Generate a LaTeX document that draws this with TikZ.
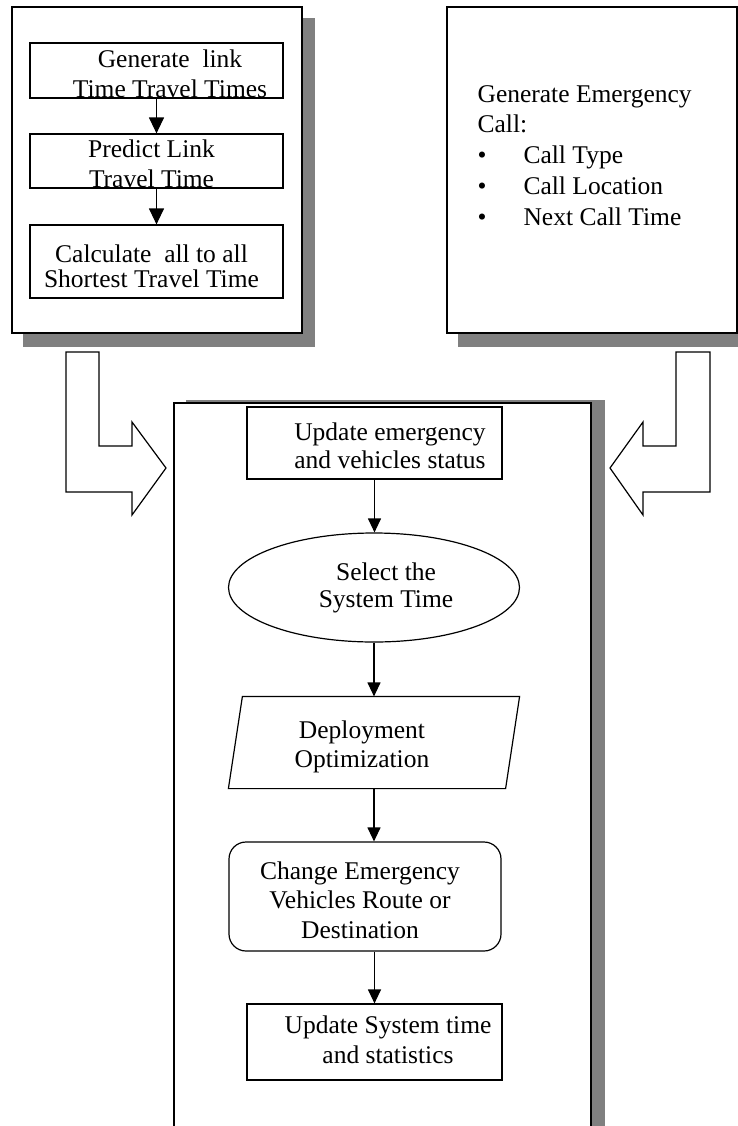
\documentclass[tikz,border=0pt]{standalone}
\usepackage{fontspec}
\setmainfont{Liberation Serif}
\usetikzlibrary{arrows.meta,shapes.geometric,calc}
\newcommand\ctab[1]{\begin{tabular}[t]{@{}c@{}}#1\end{tabular}}
\newcommand\ltab[1]{\begin{tabular}[t]{@{}l@{}}#1\end{tabular}}
\newcommand\bul{\makebox[23pt][l]{\textbullet}}
\begin{document}
\begin{tikzpicture}[x=0.5pt,y=-0.5pt,line width=0.6pt,
  shadowfill/.style={fill=black!50,draw=none},
  panel/.style={draw,fill=white},
  boxshape/.style={draw,rectangle,inner sep=0pt,fill=white},
  txt/.style={inner sep=0pt,anchor=base,font={\fontsize{12.75pt}{#1}\selectfont}},
  ltxt/.style={inner sep=0pt,anchor=base west,font={\fontsize{12.75pt}{#1}\selectfont}},
  smallflow/.style={-{Triangle[length=7pt,width=6.5pt]}},
  bigflow/.style={-{Triangle[length=8pt,width=7.5pt]}}]
\useasboundingbox (0,0) rectangle (738,1126);

% ---- upper left panel: travel time preparation ----
\fill[shadowfill] (23,18) rectangle (315,347);
\draw[panel] (12,7) rectangle (302,333);
\node[boxshape,minimum width=126.5pt,minimum height=27.5pt] (g1) at (156.5,70.5) {};
\node[boxshape,minimum width=126.5pt,minimum height=27pt] (g2) at (156.5,161) {};
\node[boxshape,minimum width=126.5pt,minimum height=36.5pt] (g3) at (156.5,261.5) {};
\node[txt=15pt] (t1) at (170,67) {\ctab{Generate\ \ link\\Time Travel Times}};
\node[txt=15pt] (t2) at (151.5,157) {\ctab{Predict Link\\Travel Time}};
\node[txt=12.5pt] (t3) at (151.5,262) {\ctab{Calculate\ \ all to all\\Shortest Travel Time}};
\draw[bigflow] (g1.south) -- (g2.north);
\draw[bigflow] (g2.south) -- (g3.north);

% ---- upper right panel: emergency call generation ----
\fill[shadowfill] (458,18) rectangle (750,347);
\draw[panel] (447,7) rectangle (737,333);
\node[ltxt=15.4pt] (calls) at (477,102)
  {\ltab{Generate Emergency\\Call:\\\bul Call Type\\\bul Call Location\\\bul Next Call Time}};

% ---- bent input arrows ----
\draw[fill=white] (66,352) -- (99,352) -- (99,446) -- (132,446) -- (132,422)
  -- (166,468) -- (132,515) -- (132,492) -- (66,492) -- cycle;
\draw[fill=white] (710,352) -- (676,352) -- (676,446) -- (643,446) -- (643,422)
  -- (610,468) -- (643,515) -- (643,492) -- (710,492) -- cycle;

% ---- main simulation panel ----
\fill[shadowfill] (186,400) rectangle (605,1150);
\draw[panel] (174,403) rectangle (591,1150);

\node[boxshape,minimum width=127.5pt,minimum height=36pt] (u1) at (374.5,443) {};
\node[txt=14pt] (u1t) at (390,440) {\ctab{Update emergency\\and vehicles status}};

\node[draw,ellipse,inner sep=0pt,fill=white,minimum width=145.5pt,minimum height=54.5pt] (sel) at (374,587.5) {};
\node[txt=13.5pt] (selt) at (386,580) {\ctab{Select the\\System Time}};

\node[rectangle,inner sep=0pt,minimum width=145pt,minimum height=45.5pt] (dep) at (374,742.5) {};
\draw ($(dep.north west)+(14,0)$) -- (dep.north east) -- ($(dep.south east)+(-14,0)$)
  -- (dep.south west) -- cycle;
\node[txt=14.5pt] (dept) at (362,738) {\ctab{Deployment\\Optimization}};

\node[boxshape,rounded corners=8.5pt,minimum width=136pt,minimum height=54.5pt] (chg) at (365,896.5) {};
\node[txt=14.75pt] (chgt) at (360,879) {\ctab{Change Emergency\\Vehicles Route or\\Destination}};

\node[boxshape,minimum width=127.5pt,minimum height=38pt] (us) at (374.5,1042) {};
\node[txt=15pt] (ust) at (388,1033) {\ctab{Update System time\\and statistics}};

\draw[smallflow] (u1.south) -- (u1.south |- sel.north);
\draw[smallflow] (sel.south) -- (sel.south |- dep.north);
\draw[smallflow] (dep.south) -- (dep.south |- chg.north);
\draw[smallflow] (us.north |- chg.south) -- (us.north);
\end{tikzpicture}
\end{document}
